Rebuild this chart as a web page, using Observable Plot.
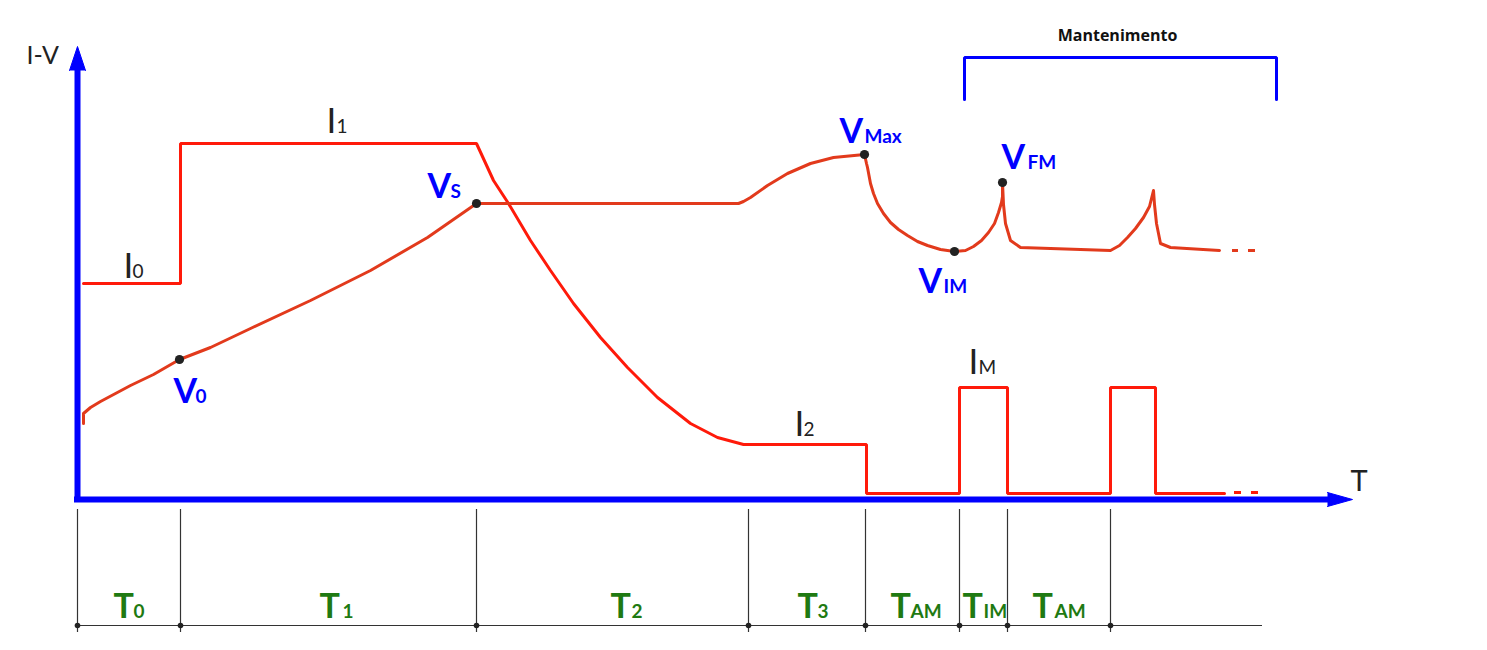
<!DOCTYPE html>
<html><head><meta charset="utf-8">
<script src="https://cdn.jsdelivr.net/npm/d3@7"></script>
<script src="https://cdn.jsdelivr.net/npm/@observablehq/plot@0.6"></script>
<style>html,body{margin:0;padding:0;background:#fff;} #chart svg{display:block}</style>
</head><body><div id="chart"></div>
<script>
// Schematic values: t = time from the origin, v = value above the T axis
const currentT = [6,103,103,399,416,431,453,473,496,523,550,580,613,640,666,789,789,882,882,930,930,1033,1033,1078,1078,1147];
const currentV = [216,216,356,356,319,296,259,229,196,162,132,102,76,62,55,55,6,6,112,112,6,6,112,112,6,6];
const currentDashT1 = [1157,1174];
const currentDashT2 = [1164,1181];
const currentDashV = 7;

const voltT = [6,6,13,23,38,53,76,102,133,173,233,293,350,399,661,666,673,690,710,733,756,787,789,790,793,796,800,806,813,821,830,840,850,863,877,888,896,904,911,917,921,924,925,925,926,928,933,943,1033,1042,1050,1058,1066,1072,1076,1077,1079,1083,1093,1142];
const voltV = [76,86,92,98,106,114,125,140,152,171,199,229,262,296,296,298,302,314,326,336,342,345,336,332,316,306,296,286,277,270,264,258,254,250,248,249,253,259,267,276,287,297,303,317,295,276,259,252,249,254,262,271,282,293,309,295,276,256,252,249];
const voltDashT1 = [1155,1171];
const voltDashT2 = [1161,1178];
const voltDashV = 249;

const keyPointT = [102,399,787,877,925];
const keyPointV = [140,296,345,248,317];

const currentLabelSub = ["0","1","2","M"];
const currentLabelT = [46,249,717,891];
const currentLabelSubT = [55,259,726,901];
const currentLabelV = [222,367,64,126];

const voltLabelSub = ["0","S","Max","IM","FM"];
const voltLabelT = [96,350,762,841,924];
const voltLabelSubT = [118,373,787,866,950];
const voltLabelV = [97,302,357,207,331];

const phaseBounds = [0,103,399,671,788,882,930,1033];
const phaseSub = ["0","1","2","3","AM","IM","AM"];
const phaseLabelT = [36,242,533,720,813,885,955];
const phaseSubT = [56,265,554,740,833,906,977];
const phaseLabelV = -118;
const timelineEnd = 1185;

const bracketT = [887,887,1199,1199];
const bracketV = [400,442,442,400];

// ---- build tables
const zip = (xs, ys) => xs.map((x, i) => ({t: x, v: Array.isArray(ys) ? ys[i] : ys}));
const currentPts = zip(currentT, currentV);
const voltPts = zip(voltT, voltV);
const keyPts = zip(keyPointT, keyPointV);
const bracketPts = zip(bracketT, bracketV);
const currentDash = currentDashT1.map((a, i) => ({t1: a, t2: currentDashT2[i], v: currentDashV}));
const voltDash = voltDashT1.map((a, i) => ({t1: a, t2: voltDashT2[i], v: voltDashV}));
const iLabels = currentLabelSub.map((s, i) => ({main: "I", sub: s, t: currentLabelT[i], ts: currentLabelSubT[i], v: currentLabelV[i]}));
const vLabels = voltLabelSub.map((s, i) => ({main: "V", sub: s, t: voltLabelT[i], ts: voltLabelSubT[i], v: voltLabelV[i]}));
const tLabels = phaseSub.map((s, i) => ({main: "T", sub: s, t: phaseLabelT[i], ts: phaseSubT[i], v: phaseLabelV}));

const BLUE = "#0000ff", RED = "#ff1a0a", ORANGE = "#e23a1c", GREEN = "#1f7a12", DARK = "#222";
const yArrow = [{t: -8, v: 429}, {t: 0, v: 453}, {t: 8, v: 429}];
const xArrow = [{t: 1250, v: 7}, {t: 1275, v: 0}, {t: 1250, v: -7}];

const font = "Lato, 'Open Sans', sans-serif";

const chart = Plot.plot({
  width: 1487, height: 650,
  marginTop: 0, marginRight: 0, marginBottom: 0, marginLeft: 0,
  x: {domain: [-77, 1410], axis: null},
  y: {domain: [-151, 499], axis: null},
  style: {background: "#fff", overflow: "visible"},
  marks: [
    // timeline below
    Plot.ruleX(phaseBounds, {x: d => d, y1: -10, y2: -133, stroke: "#333", strokeWidth: 1.2}),
    Plot.ruleY([-126], {x1: 0, x2: timelineEnd, stroke: "#333", strokeWidth: 1.2}),
    Plot.dot(phaseBounds, {x: d => d, y: -126, r: 2.8, fill: DARK, stroke: "none"}),
    // axes
    Plot.ruleX([0], {x: d => d, y1: -3, y2: 432, stroke: BLUE, strokeWidth: 6}),
    Plot.ruleY([0], {y: d => d, x1: -3, x2: 1252, stroke: BLUE, strokeWidth: 6}),
    Plot.line(yArrow, {x: "t", y: "v", fill: BLUE, stroke: BLUE, strokeWidth: 1}),
    Plot.line(xArrow, {x: "t", y: "v", fill: BLUE, stroke: BLUE, strokeWidth: 1}),
    // maintenance bracket
    Plot.line(bracketPts, {x: "t", y: "v", stroke: BLUE, strokeWidth: 3, strokeLinejoin: "miter"}),
    Plot.text(["Mantenimento"], {x: 1040, y: 459, text: d => d, fontFamily: "'Open Sans', sans-serif", fontWeight: "bold", fontSize: 16, fill: "#111", textAnchor: "middle", lineAnchor: "bottom"}),
    // current and voltage
    Plot.line(currentPts, {x: "t", y: "v", stroke: RED, strokeWidth: 3, strokeLinejoin: "miter", curve: "linear"}),
    Plot.ruleY(currentDash, {x1: "t1", x2: "t2", y: "v", stroke: RED, strokeWidth: 3}),
    Plot.line(voltPts, {x: "t", y: "v", stroke: ORANGE, strokeWidth: 3, curve: "linear"}),
    Plot.ruleY(voltDash, {x1: "t1", x2: "t2", y: "v", stroke: ORANGE, strokeWidth: 3}),
    Plot.dot(keyPts, {x: "t", y: "v", r: 4.6, fill: DARK, stroke: "none"}),
    // axis titles
    Plot.text(["I-V"], {x: -51, y: 436, text: d => d, fontFamily: font, fontSize: 25, fill: DARK, textAnchor: "start", lineAnchor: "bottom"}),
    Plot.text(["T"], {x: 1273, y: 9, text: d => d, fontFamily: font, fontSize: 29, fill: DARK, textAnchor: "start", lineAnchor: "bottom"}),
    // current labels
    Plot.text(iLabels, {x: "t", y: "v", text: "main", fontFamily: font, fontSize: 35, fill: DARK, textAnchor: "start", lineAnchor: "bottom"}),
    Plot.text(iLabels, {x: "ts", y: "v", text: "sub", fontFamily: font, fontSize: 19, fill: DARK, textAnchor: "start", lineAnchor: "bottom"}),
    // voltage labels
    Plot.text(vLabels, {x: "t", y: "v", text: "main", fontFamily: font, fontWeight: "bold", fontSize: 34, fill: BLUE, textAnchor: "start", lineAnchor: "bottom"}),
    Plot.text(vLabels, {x: "ts", y: "v", text: "sub", fontFamily: font, fontWeight: "bold", fontSize: 19, fill: BLUE, textAnchor: "start", lineAnchor: "bottom"}),
    // phase labels
    Plot.text(tLabels, {x: "t", y: "v", text: "main", fontFamily: font, fontWeight: "bold", fontSize: 34, fill: GREEN, textAnchor: "start", lineAnchor: "bottom"}),
    Plot.text(tLabels, {x: "ts", y: "v", text: "sub", fontFamily: font, fontWeight: "bold", fontSize: 19, fill: GREEN, textAnchor: "start", lineAnchor: "bottom"})
  ]
});
document.getElementById("chart").appendChild(chart);
</script>
</body></html>
